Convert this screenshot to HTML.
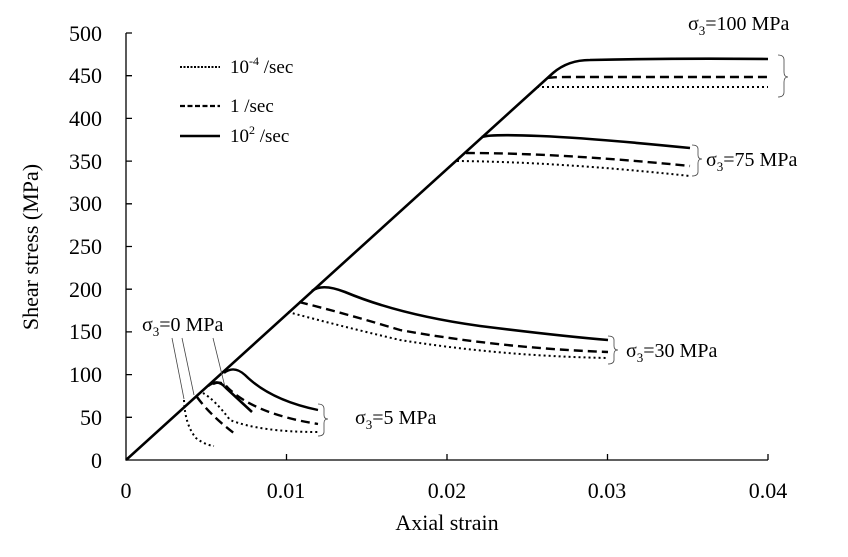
<!DOCTYPE html><html><head><style>body{margin:0;background:#fff}svg{font-family:"Liberation Serif",serif}</style></head><body>
<svg width="848" height="552" viewBox="0 0 848 552">
<g stroke="#000" fill="none">
<path d="M126,33V460H768" stroke-width="1.3"/>
<g stroke-width="1.3">
<path d="M126,33H132M126,75.7H132M126,118.4H132M126,161.1H132M126,203.8H132M126,246.5H132M126,289.2H132M126,331.9H132M126,374.6H132M126,417.3H132"/>
<path d="M286.5,460v-6M447,460v-6M607.5,460v-6M768,460v-6"/>
</g>
<path d="M126,460L553,73Q568,60 590,60Q680,58 768,59" stroke-width="2.6"/>
<path d="M548,78Q553,77 570,77L768,77" stroke-width="2.4" stroke-dasharray="9,5"/>
<path d="M537,87L768,87" stroke-width="2" stroke-dasharray="2,3"/>
<path d="M482,137Q490,134 540,136T690,148" stroke-width="2.6"/>
<path d="M466,153Q560,153 690,166" stroke-width="2.4" stroke-dasharray="9,5"/>
<path d="M457,161Q560,162 690,176" stroke-width="2" stroke-dasharray="2,3"/>
<path d="M312,291Q322,283 345,292Q400,315 480,326Q560,336 608,340" stroke-width="2.6"/>
<path d="M299,302Q340,312 400,330Q500,348 608,352" stroke-width="2.4" stroke-dasharray="9,5"/>
<path d="M288,312Q340,326 400,340Q500,356 608,358" stroke-width="2" stroke-dasharray="2,3"/>
<path d="M224,373Q234,365 245,375Q270,400 318,410" stroke-width="2.4"/>
<path d="M213,384Q222,380 228,388Q255,414 318,424" stroke-width="2.4" stroke-dasharray="9,5"/>
<path d="M203,393Q215,400 230,420Q260,432 318,432" stroke-width="2" stroke-dasharray="2,3"/>
<path d="M208,386Q218,378 226,388L252,412" stroke-width="2.6"/>
<path d="M197,397Q210,415 235,434" stroke-width="2.4" stroke-dasharray="9,5"/>
<path d="M184,400Q185,425 196,438Q205,445 214,446" stroke-width="2" stroke-dasharray="2,3"/>
<path d="M180,67H220" stroke-width="2" stroke-dasharray="2,1.5"/>
<path d="M180,106H220" stroke-width="2.2" stroke-dasharray="5,2.5"/>
<path d="M180,136H220" stroke-width="2.4"/>
<g stroke-width="0.8" stroke="#444">
<path d="M172,338L184,399M182,338L194,395M213,338L225,387"/>
<path d="M778,55q6,0 6,5v12q0,5 4,5q-4,0 -4,5v10q0,5 -6,5"/>
<path d="M692,145q6,0 6,4v6q0,4 4,4q-4,0 -4,4v9q0,4 -6,4"/>
<path d="M608,336q6,0 6,4v6q0,4 4,4q-4,0 -4,4v6q0,4 -6,4"/>
<path d="M318,404q6,0 6,5v6q0,4 4,4q-4,0 -4,4v9q0,4 -6,4"/>
</g>
</g>
<g font-size="22" text-anchor="end"><text x="102" y="41">500</text><text x="102" y="83">450</text><text x="102" y="126">400</text><text x="102" y="169">350</text><text x="102" y="211">300</text><text x="102" y="254">250</text><text x="102" y="297">200</text><text x="102" y="339">150</text><text x="102" y="382">100</text><text x="102" y="425">50</text><text x="102" y="468">0</text></g>
<g font-size="22" text-anchor="middle"><text x="126" y="498">0</text><text x="286" y="498">0.01</text><text x="447" y="498">0.02</text><text x="607" y="498">0.03</text><text x="768" y="498">0.04</text><text x="447" y="530">Axial strain</text></g>
<text transform="translate(38,247) rotate(-90)" font-size="22" text-anchor="middle">Shear stress (MPa)</text>
<g font-size="19">
<text x="230" y="73">10<tspan font-size="12" dy="-8">-4</tspan><tspan dy="8"> /sec</tspan></text>
<text x="230" y="112">1 /sec</text>
<text x="230" y="142">10<tspan font-size="12" dy="-8">2</tspan><tspan dy="8"> /sec</tspan></text>
</g>
<g font-size="20">
<text x="688" y="30">σ<tspan font-size="13" dy="5">3</tspan><tspan dy="-5">=100 MPa</tspan></text>
<text x="706" y="166">σ<tspan font-size="13" dy="5">3</tspan><tspan dy="-5">=75 MPa</tspan></text>
<text x="626" y="357">σ<tspan font-size="13" dy="5">3</tspan><tspan dy="-5">=30 MPa</tspan></text>
<text x="355" y="424">σ<tspan font-size="13" dy="5">3</tspan><tspan dy="-5">=5 MPa</tspan></text>
<text x="142" y="331">σ<tspan font-size="13" dy="5">3</tspan><tspan dy="-5">=0 MPa</tspan></text>
</g>
</svg></body></html>
